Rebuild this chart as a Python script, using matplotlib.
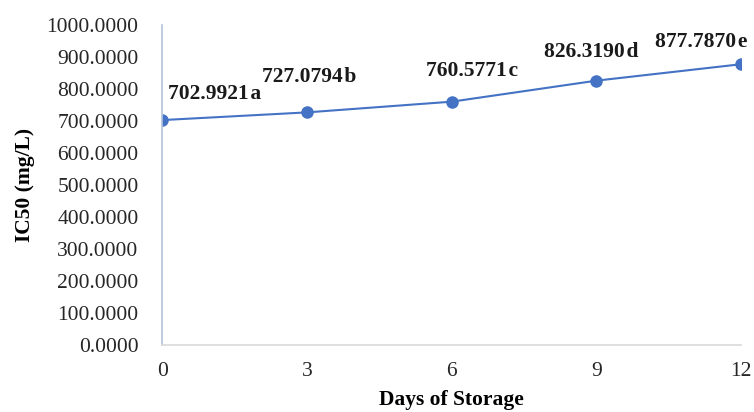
import matplotlib
matplotlib.use("Agg")
import matplotlib.pyplot as plt

# IC50 over storage time
days = [0, 3, 6, 9, 12]
ic50 = [702.9921, 727.0794, 760.5771, 826.3190, 877.7870]
letters = ["a", "b", "c", "d", "e"]
yticks = [0, 100, 200, 300, 400, 500, 600, 700, 800, 900, 1000]

plt.rcParams['font.family'] = ['Liberation Serif', 'DejaVu Serif']

fig = plt.figure(figsize=(7.54, 4.12), dpi=100)
ax = fig.add_axes([0.215, 0.163, 0.768, 0.776])

ax.plot(days, ic50, color="#4472C4", linewidth=1.5, marker="o",
        markersize=8, markerfacecolor="#4472C4", markeredgecolor="#4472C4")

# label offsets (points), left edge of text relative to the marker
offs = [(4.3, 18.7), (-32.4, 25.5), (-18.7, 22.3), (-37.4, 20.9), (-61.9, 15.8)]
for x, y, l, o in zip(days, ic50, letters, offs):
    ax.annotate(f"{y:.4f}\u200a{l}", (x, y), xytext=o, textcoords="offset points",
                ha="left", va="center", fontsize=15.5, fontweight="bold",
                color="#1a1a1a")

ax.set_xlim(0, 12)
ax.set_ylim(0, 1000)
ax.set_xticks(days)
ax.set_yticks(yticks)
ax.set_yticklabels([f"{v:.4f}" for v in yticks])
ax.tick_params(length=0, labelsize=15.5, colors="#262626")
ax.tick_params(axis="y", pad=17)
ax.tick_params(axis="x", pad=12)

for s in ["top", "right"]:
    ax.spines[s].set_visible(False)
ax.spines["left"].set_color("#B4C3DA")
ax.spines["bottom"].set_color("#D9D9D9")
ax.spines["left"].set_linewidth(1.2)
ax.spines["bottom"].set_linewidth(1.2)

ax.set_ylabel("IC50 (mg/L)", fontsize=15.5, fontweight="bold", labelpad=8)
ax.set_xlabel("Days of Storage", fontsize=15.5, fontweight="bold", labelpad=7)

fig.savefig("out.png", dpi=100)
